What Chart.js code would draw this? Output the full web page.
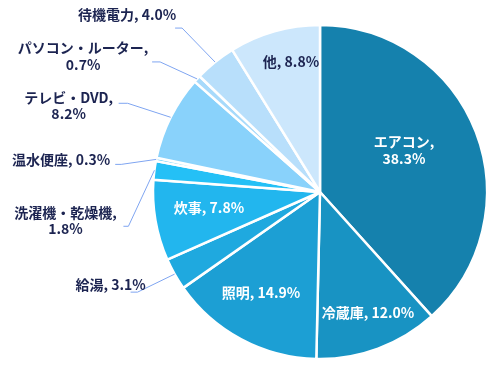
<!DOCTYPE html>
<html>
<head>
<meta charset="utf-8">
<script src="https://cdn.jsdelivr.net/npm/chart.js@4.4.1/dist/chart.umd.min.js"></script>
<style>
  html, body { margin: 0; padding: 0; background: #ffffff; }
  #wrap { width: 502px; height: 378px; position: relative; }
</style>
</head>
<body>
<div id="wrap"><canvas id="c" width="502" height="378"></canvas></div>
<script>
// ---- data ----
const categories = ['エアコン', '冷蔵庫', '照明', '給湯', '炊事', '洗濯機・乾燥機', '温水便座', 'テレビ・DVD', 'パソコン・ルーター', '待機電力', '他'];
const values = [38.3, 12.0, 14.9, 3.1, 7.8, 1.8, 0.3, 8.2, 0.7, 4.0, 8.8];
const valueLabels = ['38.3%', '12.0%', '14.9%', '3.1%', '7.8%', '1.8%', '0.3%', '8.2%', '0.7%', '4.0%', '8.8%'];
// label text lines (how each label wraps)
const labelLines = [
  ['エアコン,', '38.3%'],
  ['冷蔵庫, 12.0%'],
  ['照明, 14.9%'],
  ['給湯, 3.1%'],
  ['炊事, 7.8%'],
  ['洗濯機・乾燥機,', '1.8%'],
  ['温水便座, 0.3%'],
  ['テレビ・DVD,', '8.2%'],
  ['パソコン・ルーター,', '0.7%'],
  ['待機電力, 4.0%'],
  ['他, 8.8%']
];

// ---- style ----
const sliceColors = ['#1581ad', '#1893c3', '#1c9fd4', '#1fa9df', '#22b6ee', '#24c0f6', '#55c8f7', '#89d2fb', '#a7dafb', '#b8dffb', '#cce7fc'];
const insideTextColors = { 0: '#ffffff', 1: '#ffffff', 2: '#ffffff', 4: '#ffffff', 10: '#1c2451' };
// inside label placement: offset of text centre from pie centre
const insidePlacement = { 0: [84, -42], 1: [48, 121], 2: [-59, 101], 4: [-111, 16], 10: [-29, -130] };
// outside label placement relative to slice edge mid-point:
// elbow near slice, elbow near text, text centre
const outsidePlacement = {
  9: { e1: [-33, -34], e0: [-40, -34], t: [-88, -47] },
  8: { e1: [-37, -17], e0: [-45, -17], t: [-114, -31] },
  7: { e1: [-43, -14], e0: [-52, -14], t: [-102, -20] },
  6: { e1: [-35, 5], e0: [-41, 5], t: [-95, 0] },
  5: { e1: [-26, 56], e0: [-31, 56], t: [-89, 42] },
  3: { e1: [-37, 18], e0: [-44, 18], t: [-64, 11] }
};
const FONT = '"Noto Sans CJK JP", "Noto Sans", sans-serif';
const LINE_H = 16.5;

const labelPlugin = {
  id: 'sliceLabels',
  afterDatasetsDraw(chart) {
    const ctx = chart.ctx;
    const meta = chart.getDatasetMeta(0);
    ctx.save();
    ctx.textAlign = 'center';
    ctx.textBaseline = 'middle';
    meta.data.forEach((arc, i) => {
      const p = arc.getProps(['x', 'y', 'startAngle', 'endAngle', 'outerRadius'], true);
      const mid = (p.startAngle + p.endAngle) / 2;
      const lines = labelLines[i];
      if (insidePlacement[i]) {
        const [ox, oy] = insidePlacement[i];
        const cx = p.x + ox, cy = p.y + oy;
        ctx.fillStyle = insideTextColors[i];
        ctx.font = 'bold 14px ' + FONT;
        lines.forEach((ln, k) => {
          ctx.fillText(ln, cx, cy + (k - (lines.length - 1) / 2) * LINE_H);
        });
      } else if (outsidePlacement[i]) {
        const o = outsidePlacement[i];
        const ax = p.x + Math.cos(mid) * p.outerRadius;
        const ay = p.y + Math.sin(mid) * p.outerRadius;
        ctx.strokeStyle = '#7fa5f1';
        ctx.lineWidth = 1;
        ctx.beginPath();
        ctx.moveTo(ax, ay);
        ctx.lineTo(ax + o.e1[0], ay + o.e1[1]);
        ctx.lineTo(ax + o.e0[0], ay + o.e0[1]);
        ctx.stroke();
        const cx = ax + o.t[0], cy = ay + o.t[1];
        ctx.fillStyle = '#1c2451';
        ctx.font = 'bold 14px ' + FONT;
        lines.forEach((ln, k) => {
          ctx.fillText(ln, cx, cy + k * LINE_H);
        });
      }
    });
    ctx.restore();
  }
};

new Chart(document.getElementById('c'), {
  type: 'pie',
  data: {
    labels: categories,
    datasets: [{
      data: values,
      backgroundColor: sliceColors,
      borderColor: '#ffffff',
      borderWidth: 2.5,
      radius: 167
    }]
  },
  options: {
    responsive: false,
    animation: false,
    layout: { padding: { left: 138, right: 0, top: 6, bottom: 0 } },
    plugins: {
      legend: { display: false },
      tooltip: { enabled: false }
    }
  },
  plugins: [labelPlugin]
});
</script>
</body>
</html>
